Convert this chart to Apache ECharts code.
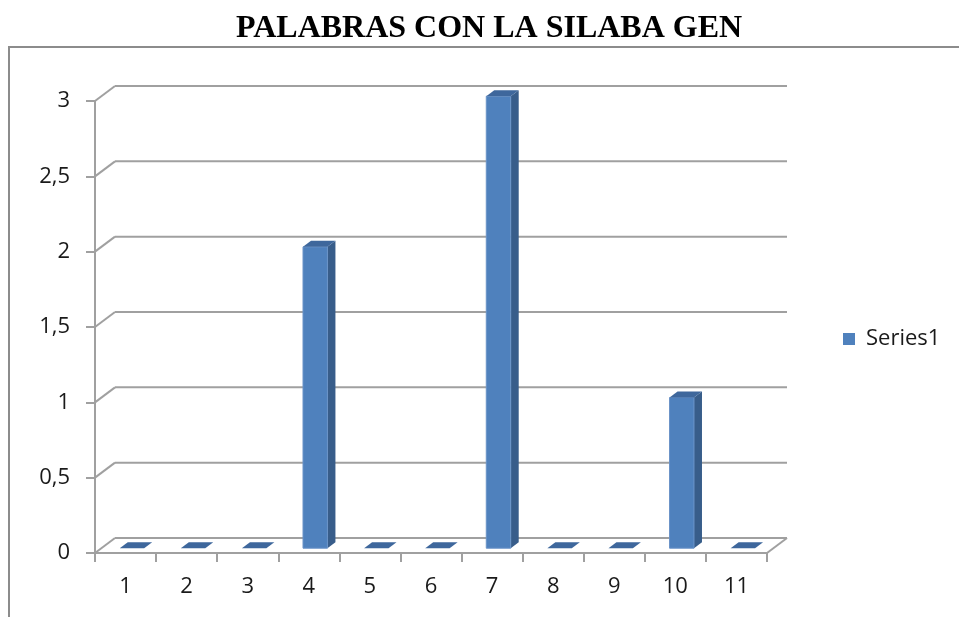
<!DOCTYPE html>
<html>
<head>
<meta charset="utf-8">
<script src="https://cdn.jsdelivr.net/npm/echarts@6/dist/echarts.min.js"></script>
<style>
  html, body { margin: 0; padding: 0; background: #fff; }
  #chart { width: 959px; height: 617px; }
</style>
</head>
<body>
<div id="chart"></div>
<script>
// datos del gráfico
const categories = ['1', '2', '3', '4', '5', '6', '7', '8', '9', '10', '11'];
const series1 = [0, 0, 0, 2, 0, 0, 3, 0, 0, 1, 0];
const yTicks = [0, 0.5, 1, 1.5, 2, 2.5, 3];

// profundidad de la vista 3D (px)
const DEPTH_X = 20;
const DEPTH_Y = -15;
const BAR_FRONT = 0.32;   // posición de la cara frontal en la profundidad
const BAR_BACK = 0.72;
const BAR_WIDTH = 0.4;    // fracción del ancho de la categoría

const GRID_COLOR = '#A0A0A0';
const LABEL_FONT = { fontFamily: 'Open Sans', fontSize: 22, color: '#1a1a1a' };

const chart = echarts.init(document.getElementById('chart'));

function renderWall(params, api) {
  const v = api.value(1);
  const bw = api.size([1, 0])[0];
  const l = api.coord([0, v]);
  const r = api.coord([categories.length - 1, v]);
  const x0 = l[0] - bw / 2, x1 = r[0] + bw / 2, y = l[1];
  const st = { stroke: GRID_COLOR, lineWidth: 2 };
  const children = [
    { type: 'line', shape: { x1: x0, y1: y, x2: x0 + DEPTH_X, y2: y + DEPTH_Y }, style: st },
    { type: 'line', shape: { x1: x0 + DEPTH_X, y1: y + DEPTH_Y, x2: x1 + DEPTH_X, y2: y + DEPTH_Y }, style: st }
  ];
  if (v === 0) {
    children.push({ type: 'line', shape: { x1: x1, y1: y, x2: x1 + DEPTH_X, y2: y + DEPTH_Y }, style: st });
  }
  return { type: 'group', children: children };
}

function renderBar(params, api) {
  const i = api.value(0);
  const v = api.value(1);
  const bw = api.size([1, 0])[0];
  const base = api.coord([i, 0]);
  const top = api.coord([i, v]);
  const w = bw * BAR_WIDTH;
  const fx = DEPTH_X * BAR_FRONT, fy = DEPTH_Y * BAR_FRONT;
  const ddx = DEPTH_X * (BAR_BACK - BAR_FRONT), ddy = DEPTH_Y * (BAR_BACK - BAR_FRONT);
  const xl = base[0] - w / 2 + fx, xr = base[0] + w / 2 + fx;
  const yt = top[1] + fy, yb = base[1] + fy;
  const children = [];
  if (yb - yt > 0.5) {
    children.push({
      type: 'polygon',
      shape: { points: [[xr, yt], [xr + ddx, yt + ddy], [xr + ddx, yb + ddy], [xr, yb]] },
      style: { fill: '#385D8A' }
    });
    children.push({
      type: 'rect',
      shape: { x: xl, y: yt, width: w, height: yb - yt },
      style: { fill: '#4F81BD', stroke: '#6A93C8', lineWidth: 1 }
    });
  }
  children.push({
    type: 'polygon',
    shape: { points: [[xl, yt], [xr, yt], [xr + ddx, yt + ddy], [xl + ddx, yt + ddy]] },
    style: { fill: '#3E679C' }
  });
  return { type: 'group', children: children };
}

const option = {
  animation: false,
  backgroundColor: '#fff',
  title: {
    text: 'PALABRAS CON LA SILABA GEN',
    left: 236,
    top: 13,
    padding: 0,
    textStyle: { fontFamily: 'Liberation Serif', fontWeight: 'bold', fontSize: 32, color: '#000' }
  },
  graphic: [{
    type: 'rect',
    shape: { x: 9, y: 47, width: 1000, height: 700 },
    style: { fill: null, stroke: '#8C8C8C', lineWidth: 2 },
    silent: true,
    z: 0
  }],
  legend: {
    data: ['Series1'],
    orient: 'vertical',
    left: 843,
    top: 328,
    padding: 0,
    icon: 'rect',
    itemWidth: 12,
    itemHeight: 12,
    textStyle: Object.assign({}, LABEL_FONT, { padding: [0, 0, 0, 6] })
  },
  grid: { left: 95, right: 192, top: 101, bottom: 64 },
  xAxis: {
    type: 'category',
    data: categories,
    boundaryGap: true,
    axisLine: { show: true, lineStyle: { color: GRID_COLOR, width: 2 } },
    axisTick: { show: true, length: 9, lineStyle: { color: GRID_COLOR, width: 2 } },
    axisLabel: Object.assign({ margin: 23 }, LABEL_FONT),
    splitLine: { show: false }
  },
  yAxis: {
    type: 'value',
    min: 0,
    max: 3,
    interval: 0.5,
    axisLine: { show: true, lineStyle: { color: GRID_COLOR, width: 2 } },
    axisTick: { show: true, length: 9, lineStyle: { color: GRID_COLOR, width: 2 } },
    axisLabel: Object.assign({
      margin: 25,
      formatter: v => String(v).replace('.', ',')
    }, LABEL_FONT),
    splitLine: { show: false }
  },
  series: [
    {
      name: 'walls',
      type: 'custom',
      renderItem: renderWall,
      data: yTicks.map(v => [0, v]),
      clip: false,
      silent: true,
      z: 1
    },
    {
      name: 'Series1',
      type: 'custom',
      renderItem: renderBar,
      data: series1.map((v, i) => [i, v]),
      itemStyle: { color: '#4F81BD' },
      clip: false,
      z: 2
    }
  ]
};

chart.setOption(option);
</script>
</body>
</html>
